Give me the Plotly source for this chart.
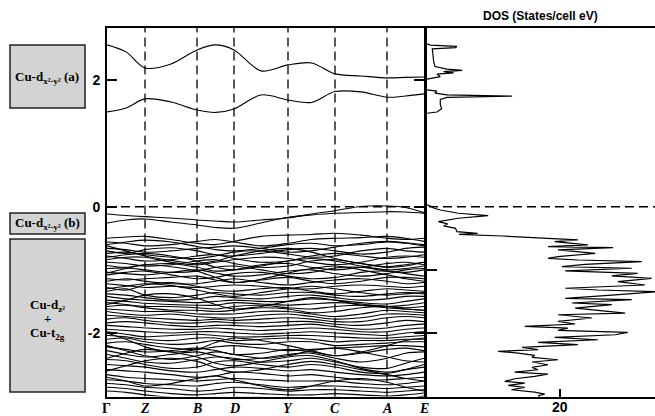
import plotly.graph_objects as go

W, H = 655, 416

# ---------------- data ----------------
k_labels = ["Γ", "Z", "B", "D", "Y", "C", "A", "E"]
k_sym = [0, 38, 90, 127, 181, 228, 280, 317]
kpath = [0, 19, 38, 64, 90, 108.5, 127, 154, 181, 204.5, 228, 254, 280, 298.5, 317]

cond_upper = [2.563, 2.452, 2.198, 2.261, 2.483, 2.563, 2.483, 2.151, 2.246, 2.277, 2.103, 2.071, 2.040, 2.048, 2.055]
cond_lower = [1.501, 1.564, 1.707, 1.659, 1.532, 1.493, 1.548, 1.770, 1.691, 1.651, 1.823, 1.818, 1.734, 1.754, 1.786]

val_top1 = [-0.115, -0.139, -0.158, -0.178, -0.21, -0.226, -0.242, -0.21, -0.178, -0.115, -0.063, 0.004, 0.012, -0.012, -0.094]
val_top2 = [-0.258, -0.210, -0.194, -0.242, -0.289, -0.329, -0.342, -0.258, -0.167, -0.131, -0.104, -0.092, -0.079, -0.084, -0.104]

val_bands = [
    [-0.50, -0.48, -0.47, -0.52, -0.58, -0.60, -0.55, -0.47, -0.45, -0.44, -0.42, -0.45, -0.50, -0.52, -0.50],
    [-0.56, -0.58, -0.62, -0.60, -0.55, -0.52, -0.56, -0.62, -0.58, -0.52, -0.50, -0.49, -0.47, -0.50, -0.55],
    [-0.60, -0.56, -0.53, -0.56, -0.63, -0.68, -0.70, -0.66, -0.60, -0.58, -0.62, -0.60, -0.56, -0.58, -0.62],
    [-0.66, -0.68, -0.72, -0.70, -0.66, -0.64, -0.62, -0.66, -0.72, -0.70, -0.64, -0.58, -0.55, -0.57, -0.60],
    [-0.70, -0.74, -0.68, -0.65, -0.70, -0.76, -0.78, -0.74, -0.68, -0.66, -0.70, -0.75, -0.72, -0.66, -0.64],
    [-0.74, -0.72, -0.76, -0.80, -0.82, -0.78, -0.72, -0.70, -0.75, -0.80, -0.78, -0.70, -0.66, -0.70, -0.72],
    [-0.78, -0.82, -0.86, -0.84, -0.78, -0.76, -0.82, -0.88, -0.86, -0.78, -0.74, -0.78, -0.82, -0.80, -0.76],
    [-0.84, -0.80, -0.80, -0.88, -0.92, -0.88, -0.84, -0.80, -0.82, -0.88, -0.92, -0.88, -0.80, -0.78, -0.80],
    [-0.88, -0.90, -0.94, -0.92, -0.86, -0.84, -0.90, -0.96, -0.94, -0.86, -0.84, -0.90, -0.96, -0.94, -0.88],
    [-0.93, -0.96, -0.92, -0.90, -0.96, -1.02, -1.00, -0.92, -0.90, -0.96, -1.00, -0.96, -0.90, -0.88, -0.92],
    [-0.98, -0.97, -1.00, -1.04, -1.02, -0.96, -0.94, -1.00, -1.06, -1.04, -0.97, -0.96, -1.02, -1.04, -1.00],
    [-1.04, -1.06, -1.08, -1.04, -1.00, -1.05, -1.10, -1.08, -1.02, -1.00, -1.06, -1.10, -1.06, -1.00, -0.98],
    [-1.08, -1.04, -1.02, -1.08, -1.14, -1.12, -1.06, -1.04, -1.10, -1.14, -1.12, -1.04, -1.02, -1.06, -1.10],
    [-1.14, -1.16, -1.14, -1.12, -1.10, -1.16, -1.20, -1.16, -1.12, -1.18, -1.22, -1.18, -1.12, -1.12, -1.14],
    [-1.18, -1.14, -1.18, -1.22, -1.22, -1.18, -1.14, -1.20, -1.24, -1.20, -1.16, -1.14, -1.18, -1.22, -1.20],
    [-1.22, -1.25, -1.28, -1.26, -1.28, -1.26, -1.24, -1.26, -1.30, -1.30, -1.26, -1.24, -1.26, -1.28, -1.26],
    [-1.28, -1.32, -1.24, -1.20, -1.26, -1.32, -1.34, -1.30, -1.28, -1.34, -1.38, -1.34, -1.30, -1.32, -1.34],
    [-1.34, -1.30, -1.40, -1.44, -1.40, -1.36, -1.38, -1.40, -1.36, -1.36, -1.40, -1.42, -1.38, -1.36, -1.38],
    [-1.38, -1.40, -1.44, -1.48, -1.46, -1.42, -1.44, -1.46, -1.42, -1.40, -1.44, -1.48, -1.46, -1.42, -1.42],
    [-1.42, -1.46, -1.48, -1.50, -1.52, -1.50, -1.48, -1.50, -1.50, -1.46, -1.48, -1.52, -1.54, -1.50, -1.46],
    [-1.48, -1.50, -1.53, -1.55, -1.56, -1.56, -1.52, -1.54, -1.56, -1.54, -1.52, -1.54, -1.58, -1.56, -1.52],
    [-1.52, -1.55, -1.58, -1.58, -1.60, -1.62, -1.58, -1.56, -1.60, -1.62, -1.58, -1.56, -1.58, -1.60, -1.58],
    [-1.58, -1.56, -1.60, -1.64, -1.64, -1.66, -1.64, -1.60, -1.62, -1.68, -1.66, -1.60, -1.58, -1.62, -1.64],
    [-1.62, -1.64, -1.66, -1.66, -1.70, -1.70, -1.70, -1.66, -1.66, -1.70, -1.74, -1.70, -1.64, -1.66, -1.68],
    [-1.66, -1.70, -1.72, -1.70, -1.74, -1.76, -1.76, -1.72, -1.70, -1.74, -1.78, -1.76, -1.70, -1.70, -1.72],
    [-1.72, -1.74, -1.76, -1.78, -1.80, -1.78, -1.80, -1.78, -1.76, -1.78, -1.82, -1.82, -1.76, -1.74, -1.76],
    [-1.78, -1.76, -1.80, -1.84, -1.84, -1.82, -1.84, -1.84, -1.82, -1.82, -1.86, -1.88, -1.84, -1.80, -1.82],
    [-1.84, -1.82, -1.84, -1.88, -1.90, -1.88, -1.88, -1.90, -1.88, -1.86, -1.90, -1.94, -1.92, -1.88, -1.86],
    [-1.88, -1.90, -1.92, -1.94, -1.94, -1.92, -1.94, -1.96, -1.94, -1.92, -1.94, -1.98, -1.98, -1.94, -1.92],
    [-1.94, -1.96, -1.98, -2.00, -1.98, -1.98, -2.00, -2.02, -2.00, -1.98, -2.00, -2.02, -2.04, -2.00, -1.98],
    [-1.98, -2.02, -2.06, -2.04, -2.02, -2.04, -2.06, -2.06, -2.04, -2.04, -2.06, -2.08, -2.08, -2.06, -2.04],
    [-2.04, -2.06, -2.10, -2.12, -2.08, -2.08, -2.12, -2.10, -2.08, -2.10, -2.14, -2.12, -2.12, -2.10, -2.10],
    [-2.10, -2.08, -2.14, -2.18, -2.16, -2.12, -2.16, -2.18, -2.14, -2.14, -2.20, -2.18, -2.16, -2.14, -2.14],
    [-2.16, -2.14, -2.18, -2.24, -2.26, -2.22, -2.20, -2.24, -2.28, -2.26, -2.24, -2.22, -2.20, -2.20, -2.22],
    [-2.22, -2.26, -2.30, -2.28, -2.24, -2.28, -2.34, -2.32, -2.26, -2.30, -2.36, -2.32, -2.26, -2.24, -2.28],
    [-2.28, -2.34, -2.38, -2.34, -2.30, -2.36, -2.42, -2.40, -2.34, -2.32, -2.40, -2.46, -2.40, -2.32, -2.30],
    [-2.34, -2.40, -2.46, -2.48, -2.42, -2.38, -2.40, -2.46, -2.44, -2.40, -2.46, -2.54, -2.56, -2.48, -2.40],
    [-2.42, -2.44, -2.50, -2.56, -2.54, -2.46, -2.44, -2.50, -2.54, -2.50, -2.54, -2.62, -2.64, -2.58, -2.50],
    [-2.50, -2.52, -2.54, -2.60, -2.62, -2.58, -2.54, -2.56, -2.60, -2.58, -2.62, -2.66, -2.68, -2.66, -2.62],
    [-2.58, -2.60, -2.62, -2.66, -2.70, -2.68, -2.62, -2.64, -2.68, -2.66, -2.70, -2.74, -2.74, -2.72, -2.70],
    [-2.66, -2.70, -2.72, -2.74, -2.76, -2.74, -2.72, -2.74, -2.76, -2.76, -2.76, -2.80, -2.82, -2.80, -2.76],
    [-2.74, -2.76, -2.80, -2.82, -2.84, -2.80, -2.78, -2.82, -2.86, -2.84, -2.84, -2.86, -2.88, -2.86, -2.84],
    [-2.80, -2.82, -2.86, -2.88, -2.92, -2.90, -2.86, -2.88, -2.92, -2.90, -2.90, -2.92, -2.94, -2.92, -2.90],
    [-2.86, -2.88, -2.92, -2.96, -2.98, -2.96, -2.94, -2.96, -2.98, -2.98, -2.96, -2.98, -3.00, -2.98, -2.95],
    [-2.92, -2.94, -2.98, -3.02, -3.04, -3.04, -3.02, -3.02, -3.04, -3.04, -3.02, -3.04, -3.05, -3.04, -3.00],
    [-0.62, -0.70, -0.78, -0.85, -0.90, -0.86, -0.78, -0.70, -0.66, -0.72, -0.82, -0.90, -0.95, -0.92, -0.88],
    [-1.05, -0.98, -0.92, -0.95, -1.02, -1.12, -1.20, -1.15, -1.05, -0.98, -0.94, -1.00, -1.08, -1.14, -1.18],
    [-1.55, -1.48, -1.40, -1.38, -1.45, -1.55, -1.62, -1.58, -1.50, -1.44, -1.48, -1.56, -1.60, -1.62, -1.64],
    [-2.00, -2.10, -2.22, -2.30, -2.26, -2.15, -2.08, -2.12, -2.20, -2.28, -2.36, -2.30, -2.20, -2.12, -2.08],
    [-2.60, -2.52, -2.44, -2.40, -2.45, -2.55, -2.62, -2.58, -2.50, -2.45, -2.50, -2.58, -2.66, -2.72, -2.76],
    [-1.30, -1.26, -1.22, -1.25, -1.32, -1.38, -1.42, -1.36, -1.30, -1.26, -1.30, -1.36, -1.40, -1.38, -1.36],
    [-2.40, -2.32, -2.26, -2.30, -2.38, -2.48, -2.52, -2.46, -2.38, -2.36, -2.44, -2.56, -2.62, -2.58, -2.54],
    [-0.80, -0.76, -0.74, -0.78, -0.86, -0.96, -1.00, -0.94, -0.86, -0.82, -0.86, -0.94, -1.00, -0.98, -0.94],
    [-2.70, -2.76, -2.84, -2.80, -2.72, -2.68, -2.74, -2.84, -2.90, -2.84, -2.76, -2.72, -2.78, -2.86, -2.92],
    [-2.20, -2.28, -2.36, -2.42, -2.36, -2.30, -2.34, -2.40, -2.36, -2.28, -2.24, -2.30, -2.38, -2.44, -2.46],
]

# DOS (States/cell eV) vs energy (eV)
dos_energy = [2.58, 2.56, 2.54, 2.52, 2.50, 2.40, 2.30, 2.22, 2.18, 2.16, 2.14, 2.12, 2.10, 2.06, 2.04, 2.02,
              None,
              1.85, 1.83, 1.80, 1.77, 1.75, 1.73, 1.70, 1.62, 1.55, 1.50, 1.48,
              None,
              0.03, 0.012, -0.02, -0.052, -0.104, -0.142, -0.183, -0.237, -0.273, -0.305, -0.342, -0.395,
              -0.421, -0.437, -0.464, -0.50, -0.527, -0.554, -0.606, -0.633, -0.649, -0.685, -0.738,
              -0.792, -0.817, -0.844, -0.871, -0.912, -0.95, -0.975, -1.018, -1.055, -1.097, -1.134,
              -1.188, -1.24, -1.292, -1.319, -1.346, -1.399, -1.451, -1.473, -1.525, -1.552, -1.605,
              -1.657, -1.684, -1.711, -1.763, -1.815, -1.858, -1.895, -1.922, -1.958, -1.99, -2.028,
              -2.069, -2.107, -2.148, -2.186, -2.227, -2.265, -2.291, -2.318, -2.354, -2.386, -2.424,
              -2.46, -2.503, -2.544, -2.582, -2.619, -2.651, -2.687, -2.725, -2.766, -2.793, -2.83,
              -2.861, -2.899, -2.936, -2.968, -2.994, -3.01]
dos_value = [0, 0.5, 4.5, 4.3, 0.8, 0.9, 1.0, 1.2, 3.0, 5.3, 2.5, 4.0, 1.5, 2.0, 1.0, 0,
             None,
             0, 1.5, 1.2, 3.0, 12.8, 3.0, 2.0, 2.0, 2.2, 1.5, 0,
             None,
             0, 0.5, 1.0, 2.0, 4.7, 9.2, 4.7, 1.7, 3.1, 2.5, 4.3, 4.5,
             7.6, 4.8, 11.3, 18.8, 22.7, 19.2, 24.2, 18.2, 28.0, 19.7, 25.3,
             19.7, 18.2, 22.7, 32.3, 23.8, 20.3, 30.8, 20.8, 31.7, 27.8, 33.8,
             28.7, 32.8, 20.8, 25.7, 34.5, 27.8, 20.8, 30.8, 21.8, 27.8, 22.3,
             27.2, 29.8, 19.7, 24.8, 19.7, 22.3, 14.7, 21.2, 19.7, 30.2, 28.3,
             19.2, 25.7, 16.7, 22.7, 14.3, 16.7, 10.7, 13.7, 16.2, 15.8, 19.7,
             15.8, 18.2, 15.8, 16.7, 13.2, 18.2, 16.2, 13.2, 11.7, 14.7, 12.2,
             14.7, 12.7, 16.2, 17.7, 16.7, 17.0]

E_MIN, E_MAX = -3.006, 2.83
DOS_MAX = 34.3

# ---------------- figure ----------------
def px(x):
    return x / W

def py(y):
    return 1 - y / H

fig = go.Figure()

line_style = dict(color="black", width=1.1, shape="spline", smoothing=0.9)
for band in [cond_upper, cond_lower, val_top1, val_top2] + val_bands:
    fig.add_trace(go.Scatter(x=kpath, y=band, mode="lines", line=line_style,
                             hoverinfo="skip", xaxis="x", yaxis="y"))

fig.add_trace(go.Scatter(x=dos_value, y=dos_energy, mode="lines",
                         line=dict(color="black", width=1.2), connectgaps=False,
                         hoverinfo="skip", xaxis="x2", yaxis="y2"))

ydom = [1 - 396.5 / H, 1 - 28 / H]
bold_sans = dict(family="Liberation Sans, Arial, sans-serif", size=14, color="black", weight="bold")

fig.update_layout(
    width=W, height=H,
    margin=dict(l=0, r=0, t=0, b=0),
    paper_bgcolor="white", plot_bgcolor="white",
    showlegend=False,
    xaxis=dict(domain=[px(107), px(424)], range=[0, 317], showline=True, linecolor="black",
               linewidth=2, mirror=True, showticklabels=False, ticks="", showgrid=False,
               zeroline=False, automargin=False, fixedrange=True),
    yaxis=dict(domain=ydom, range=[E_MIN, E_MAX], showline=True, linecolor="black",
               linewidth=2, mirror="ticks", ticks="inside", ticklen=10, tickwidth=2,
               tickcolor="black", tickvals=[-2, 0, 2], ticktext=["-2", "0", "2"],
               tickfont=bold_sans, showgrid=False, zeroline=False, automargin=False,
               ticklabelstandoff=2),
    xaxis2=dict(domain=[px(427), 1], range=[0, DOS_MAX], anchor="y2", showline=True,
                linecolor="black", linewidth=2, mirror=True, ticks="inside", ticklen=8,
                tickwidth=2, tickcolor="black", tickvals=[20], showticklabels=False,
                showgrid=False, zeroline=False, automargin=False),
    yaxis2=dict(domain=ydom, range=[E_MIN, E_MAX], anchor="x2", showline=True,
                linecolor="black", linewidth=2, ticks="inside", ticklen=10, tickwidth=2,
                tickcolor="black", tickvals=[-2, -1], showticklabels=False,
                showgrid=False, zeroline=False, automargin=False),
)

shapes = []
for kx in k_sym[1:-1]:
    shapes.append(dict(type="line", xref="x", yref="y domain", x0=kx, x1=kx, y0=0, y1=1,
                       line=dict(color="black", width=1.3, dash="9px,5px")))
shapes.append(dict(type="line", xref="paper", yref="y", x0=px(107), x1=1, y0=0, y1=0,
                   line=dict(color="black", width=1.6, dash="9px,5px")))
# orbital-character boxes
for (y0, y1) in [(45, 108), (213, 234), (239, 392)]:
    shapes.append(dict(type="rect", xref="paper", yref="paper",
                       x0=px(10), x1=px(85), y0=py(y1), y1=py(y0),
                       fillcolor="#d3d3d3", line=dict(color="#222222", width=1.5)))
fig.update_layout(shapes=shapes)

serif = dict(family="Liberation Serif, Times New Roman, serif", size=13, color="black", weight="bold")
ann = []
ann.append(dict(text="Cu-d<sub>x²-y²</sub> (a)", x=px(47), y=py(77)))
ann.append(dict(text="Cu-d<sub>x²-y²</sub> (b)", x=px(47), y=py(223)))
ann.append(dict(text="Cu-d<sub>z²</sub>", x=px(47), y=py(305)))
ann.append(dict(text="+", x=px(47), y=py(318)))
ann.append(dict(text="Cu-t<sub>2g</sub>", x=px(47), y=py(333)))
for a in ann:
    a.update(xref="paper", yref="paper", showarrow=False, font=serif,
             xanchor="center", yanchor="middle")

for lab, kx in zip(k_labels, k_sym):
    ann.append(dict(text=lab, x=kx, xref="x", y=py(408), yref="paper", showarrow=False,
                    xanchor="center", yanchor="middle",
                    font=dict(family="Liberation Serif, Times New Roman, serif", size=14,
                              color="black", weight="bold",
                              style="normal" if lab == "Γ" else "italic")))

ann.append(dict(text="20", x=20, xref="x2", y=py(407), yref="paper", showarrow=False,
                xanchor="center", yanchor="middle",
                font=dict(family="Liberation Sans, Arial, sans-serif", size=14, color="black",
                          weight="bold")))
ann.append(dict(text="DOS (States/cell eV)", x=px(540), y=py(16), xref="paper",
                yref="paper", showarrow=False, xanchor="center", yanchor="middle",
                font=dict(family="Liberation Sans, Arial, sans-serif", size=12, color="black",
                          weight="bold")))
fig.update_layout(annotations=ann)

fig.write_html("out.html")
